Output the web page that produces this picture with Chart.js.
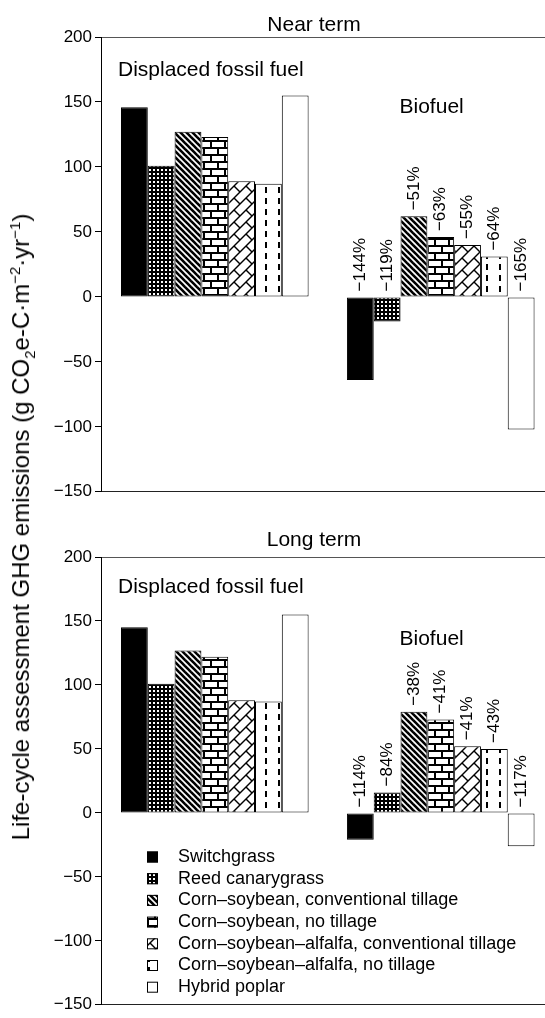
<!DOCTYPE html>
<html><head><meta charset="utf-8">
<script src="https://cdn.jsdelivr.net/npm/chart.js@4.4.1/dist/chart.umd.min.js"></script>
<style>
html,body{margin:0;padding:0;background:#fff;width:545px;height:1018px;overflow:hidden;position:relative;font-family:'Liberation Sans',Arial,sans-serif;}
canvas{position:absolute;left:0;}
#c1{top:0px}
#c2{top:505px}
#ytitle{position:absolute;left:21px;top:527px;transform:translate(-50%,-50%) rotate(-90deg);white-space:nowrap;font-size:24px;color:#000;line-height:1;}
#ytitle sub,#ytitle sup{font-size:15px;line-height:0;}
</style></head><body>
<canvas id="c1" width="545" height="505"></canvas>
<canvas id="c2" width="545" height="513"></canvas>
<div id="ytitle">Life-cycle assessment GHG emissions (g CO<sub>2</sub>e-C·m<sup>−2</sup>·yr<sup>−1</sup>)</div>
<script>
// ---------------- data ----------------
const crops = ['Switchgrass', 'Reed canarygrass', 'Corn\u2013soybean, conventional tillage', 'Corn\u2013soybean, no tillage', 'Corn\u2013soybean\u2013alfalfa, conventional tillage', 'Corn\u2013soybean\u2013alfalfa, no tillage', 'Hybrid poplar'];
const groups = ['Displaced fossil fuel', 'Biofuel'];
const nearFossil = [146, 101, 127, 123, 89, 87, 155];
const nearBiofuel = [-64, -19, 62, 46, 40, 31, -102];
const nearPct = ['\u2212144%', '\u2212119%', '\u221251%', '\u221263%', '\u221255%', '\u221264%', '\u2212165%'];
const longFossil = [145, 101, 127, 122, 88, 87, 155];
const longBiofuel = [-21, 16, 79, 73, 52, 50, -26];
const longPct = ['\u2212114%', '\u221284%', '\u221238%', '\u221241%', '\u221241%', '\u221243%', '\u2212117%'];
const yTicks = [-150, -100, -50, 0, 50, 100, 150, 200];
const titles = ['Near term', 'Long term'];

// ---------------- layout constants ----------------
const FONT = "'Liberation Sans', Arial, sans-serif";
const GROUP_GAP = 8.43;   // distance (in bar widths) between first fossil bar and first biofuel bar
const X_MIN = -1.246, X_MAX = 15.32;

Chart.defaults.font.family = FONT;
Chart.defaults.color = '#000';

// ---------------- patterns ----------------
function tile(w, h, draw) {
  const c = document.createElement('canvas');
  c.width = w; c.height = h;
  const g = c.getContext('2d');
  g.fillStyle = '#fff'; g.fillRect(0, 0, w, h);
  g.fillStyle = '#000'; g.strokeStyle = '#000';
  draw(g, w, h);
  return g.createPattern(c, 'repeat');
}
function makePatterns() {
  return [
    '#000',
    tile(4, 4, (g) => { g.fillRect(0, 0, 4, 4); g.fillStyle = '#fff'; g.fillRect(1, 1, 2, 2); }),
    tile(6, 6, (g, s) => {
      g.lineWidth = 2.6;
      for (const o of [-s, 0, s]) { g.beginPath(); g.moveTo(-1 + o, -1); g.lineTo(s + 1 + o, s + 1); g.stroke(); }
    }),
    tile(14, 14, (g) => {
      g.fillRect(0, 0, 14, 2); g.fillRect(0, 7, 14, 2);
      g.fillRect(0, 0, 2, 7); g.fillRect(7, 7, 2, 7);
    }),
    tile(12, 12, (g, s) => {
      g.lineWidth = 1.4;
      for (const o of [0, s, 2 * s]) { g.beginPath(); g.moveTo(-1, o + 1); g.lineTo(o + 1, -1); g.stroke(); }
      for (const o of [-s, 0, s]) { g.beginPath(); g.moveTo(s / 2 + o, s / 2); g.lineTo(s + o, s); g.stroke(); }
      g.beginPath(); g.moveTo(s / 2 - s, s / 2 - s); g.lineTo(0, 0); g.stroke();
      g.beginPath(); g.moveTo(s / 2, s / 2 - s); g.lineTo(s, 0); g.stroke();
    }),
    tile(13, 11, (g) => { g.fillRect(5, 0, 2, 6); }),
    '#fff'
  ];
}
const patterns = makePatterns();

// ---------------- plugin: titles, group labels, % labels, legend ----------------
const annot = {
  id: 'annot',
  afterDatasetsDraw(chart, args, o) {
    const { ctx, chartArea, scales: { x, y } } = chart;
    ctx.save();
    ctx.fillStyle = '#000';
    ctx.font = '21px ' + FONT;
    ctx.textAlign = 'center'; ctx.textBaseline = 'alphabetic';
    ctx.fillText(o.title, 314, chartArea.top - o.titleGap);
    ctx.textAlign = 'left';
    ctx.fillText(groups[0], x.getPixelForValue(-0.612), y.getPixelForValue(o.fossilLabelY));
    ctx.textAlign = 'center';
    ctx.fillText(groups[1], x.getPixelForValue(11.09), y.getPixelForValue(o.bioLabelY));
    ctx.font = '17px ' + FONT;
    chart.getDatasetMeta(1).data.forEach((el, i) => {
      const top = Math.min(el.y, el.base);
      ctx.save();
      ctx.translate(el.x, top - 6);
      ctx.rotate(-Math.PI / 2);
      ctx.textAlign = 'left'; ctx.textBaseline = 'middle';
      ctx.fillText(o.pct[i], 0, 0);
      ctx.restore();
    });
    if (o.legend) {
      ctx.font = '18px ' + FONT;
      ctx.textAlign = 'left'; ctx.textBaseline = 'middle';
      crops.forEach((name, i) => {
        const cy = chartArea.top + 300 + i * 21.7;
        ctx.fillStyle = patterns[i];
        ctx.fillRect(147, cy - 5.5, 11, 11);
        ctx.strokeStyle = '#000'; ctx.lineWidth = 1;
        ctx.strokeRect(147.5, cy - 5, 10, 10);
        ctx.fillStyle = '#000';
        ctx.fillText(name, 178, cy);
      });
    }
    ctx.restore();
  }
};

function makeChart(id, fossil, bio, pct, title, padTop, padBottom, extra) {
  const ds = (label, vals, off) => ({
    label,
    data: vals.map((v, i) => ({ x: i + off, y: v })),
    backgroundColor: patterns,
    borderColor: '#000',
    borderWidth: 1,
    borderSkipped: false,
    grouped: false,
    barPercentage: 1,
    categoryPercentage: 1,
    inflateAmount: 0
  });
  return new Chart(document.getElementById(id), {
    type: 'bar',
    data: { datasets: [ds(groups[0], fossil, 0), ds(groups[1], bio, GROUP_GAP)] },
    options: {
      responsive: false,
      animation: false,
      events: [],
      layout: { padding: { top: padTop, bottom: padBottom, left: 0, right: 0 } },
      plugins: {
        legend: { display: false },
        tooltip: { enabled: false },
        annot: Object.assign({ title, pct }, extra)
      },
      scales: {
        x: {
          type: 'linear', position: 'bottom', min: X_MIN, max: X_MAX,
          offset: false,
          afterBuildTicks: (s) => { s.ticks = [{ value: X_MIN }, { value: X_MAX }]; },
          ticks: { display: false },
          grid: { display: false, offset: false },
          border: { display: true, color: '#222', width: 1 },
          afterFit: (s) => { s.height = 0; }
        },
        x2: {
          type: 'linear', position: 'top', offset: false,
          ticks: { display: false },
          grid: { display: false },
          border: { display: true, color: '#555', width: 1 },
          afterFit: (s) => { s.height = 0; }
        },
        y: {
          min: -150, max: 200,
          afterBuildTicks: (s) => { s.ticks = yTicks.map(v => ({ value: v })); },
          ticks: {
            font: { size: 17 }, color: '#000', padding: 3,
            callback: (v) => (v < 0 ? '\u2212' + Math.abs(v) : String(v))
          },
          grid: { display: true, drawOnChartArea: false, drawTicks: true, tickLength: 6, color: '#000', lineWidth: 1 },
          border: { display: true, color: '#000', width: 1 },
          afterFit: (s) => { s.width = 101; }
        }
      }
    },
    plugins: [annot]
  });
}

makeChart('c1', nearFossil, nearBiofuel, nearPct, titles[0], 37, 13,
  { titleGap: 6.5, fossilLabelY: 170, bioLabelY: 141.5, legend: false });
makeChart('c2', longFossil, longBiofuel, longPct, titles[1], 52, 7,
  { titleGap: 11, fossilLabelY: 171.6, bioLabelY: 131, legend: true });
</script>
</body></html>
